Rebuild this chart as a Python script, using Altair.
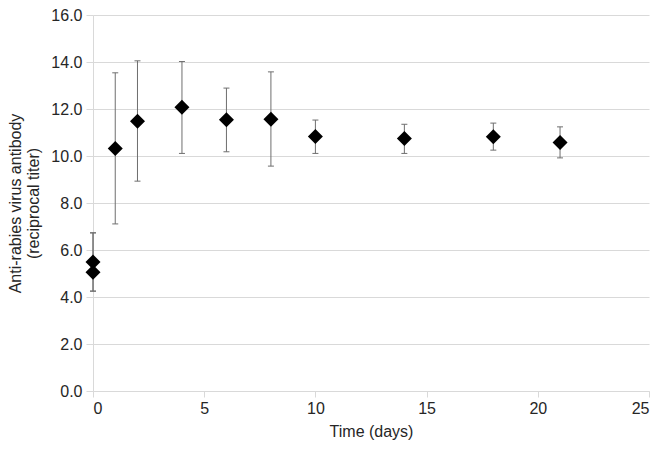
import altair as alt
import pandas as pd

days = [0, 0, 1, 2, 4, 6, 8, 10, 14, 18, 21]
means = [5.49, 5.05, 10.32, 11.48, 12.07, 11.54, 11.56, 10.83, 10.74, 10.82, 10.57]
lower = [4.25, 4.25, 7.11, 8.93, 10.11, 10.18, 9.57, 10.11, 10.11, 10.25, 9.92]
upper = [6.73, 6.73, 13.54, 14.05, 14.02, 12.89, 13.58, 11.53, 11.35, 11.40, 11.24]

x_ticks = [0, 5, 10, 15, 20, 25]
y_ticks = [0, 2, 4, 6, 8, 10, 12, 14, 16]

df = pd.DataFrame({"day": days, "mean": means, "lower": lower, "upper": upper})

FONT = "Liberation Sans"
GRID = "#d9d9d9"
TXT = "#262626"
BAR = "#6e6e6e"

xs = alt.Scale(domain=[0, 25], nice=False, zero=False)
ys = alt.Scale(domain=[0, 16], nice=False)

x_axis = alt.Axis(values=x_ticks, grid=False, domainColor=GRID, tickColor=GRID, tickSize=6,
                  labelFont=FONT, labelFontSize=16, labelColor=TXT, labelPadding=3,
                  title="Time (days)", titleFont=FONT, titleFontSize=16, titleFontWeight="normal",
                  titleColor=TXT, titlePadding=7)
y_axis = alt.Axis(values=y_ticks, format=".1f", grid=True, gridColor=GRID, domainColor=GRID,
                  tickColor=GRID, tickSize=7, labelFont=FONT, labelFontSize=16, labelColor=TXT,
                  labelPadding=4,
                  title=["Anti-rabies virus antibody", "(reciprocal titer)"], titleFont=FONT,
                  titleFontSize=16, titleFontWeight="normal", titleColor=TXT, titlePadding=9,
                  titleLineHeight=18)

base = alt.Chart(df)

rules = base.mark_rule(color=BAR, strokeWidth=1).encode(
    x=alt.X("day:Q", scale=xs, axis=x_axis),
    y=alt.Y("lower:Q", scale=ys, axis=y_axis),
    y2="upper:Q",
)
cap_top = base.mark_tick(orient="horizontal", size=6, thickness=1, color=BAR, opacity=1).encode(
    x=alt.X("day:Q", scale=xs, axis=x_axis), y=alt.Y("upper:Q", scale=ys, axis=y_axis)
)
cap_bot = base.mark_tick(orient="horizontal", size=6, thickness=1, color=BAR, opacity=1).encode(
    x=alt.X("day:Q", scale=xs, axis=x_axis), y=alt.Y("lower:Q", scale=ys, axis=y_axis)
)
points = base.mark_point(shape="diamond", filled=True, size=225, color="black", opacity=1).encode(
    x=alt.X("day:Q", scale=xs, axis=x_axis), y=alt.Y("mean:Q", scale=ys, axis=y_axis)
)

chart = alt.layer(rules, cap_top, cap_bot, points).properties(
    width=556, height=376,
    autosize=alt.AutoSizeParams(type="none"),
    padding={"left": 85, "top": 7, "right": 9, "bottom": 49},
).configure_view(stroke=None)

chart.save("out.html", embed_options={"renderer": "svg", "actions": False})
